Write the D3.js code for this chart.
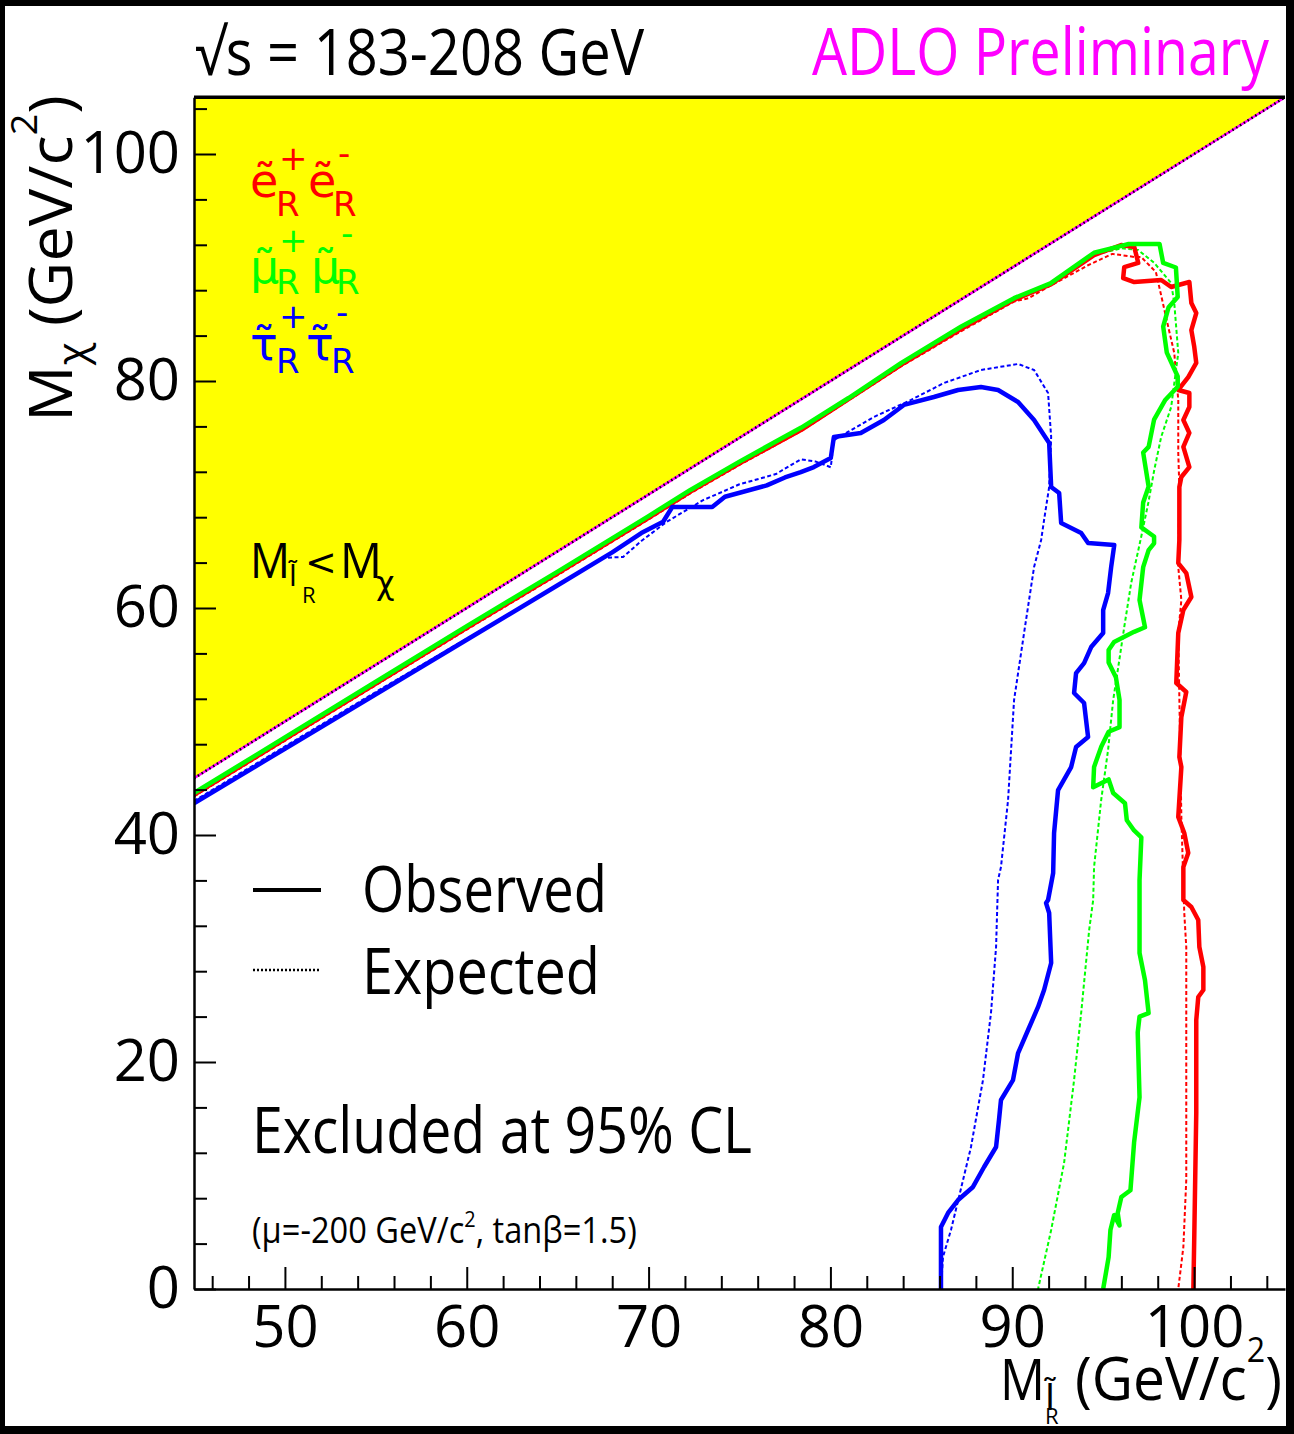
<!DOCTYPE html>
<html><head><meta charset="utf-8">
<script src="https://cdn.jsdelivr.net/npm/d3@7"></script>
<style>html,body{margin:0;padding:0;background:#000}svg{display:block}</style>
</head><body>
<svg id="c" width="1294" height="1434"></svg>
<script>
// ---------------- data ----------------
const xDomain = [45, 105];
const yDomain = [0, 105];
const xMajorTicks = [50, 60, 70, 80, 90, 100];
const xMinorTicks = [46,48,52,54,56,58,62,64,66,68,72,74,76,78,82,84,86,88,92,94,96,98,102,104];
const yMajorTicks = [0, 20, 40, 60, 80, 100];
const yMinorTicks = [4,8,12,16,24,28,32,36,44,48,52,56,64,68,72,76,84,88,92,96,104];
const forbiddenRegion = [[45,45],[45,105],[105,105]];   // M_slepton < M_chi
const boundary = [[45,45],[105,105]];

// selectron (red)
const eObs = [[45,43.55],[50,48.45],[55,53.35],[60,58.25],[65,63.05],[70,67.95],[72.3,70.25],[75,72.75],[78.4,75.7],[83.9,81.45],[87.2,84.6],[90.1,87.15],[92.1,88.5],[94.5,91.1],[95.99,91.98],[96.71,91.81],[96.93,90.40],[96.16,90.04],[96.10,89.07],[96.71,88.72],[98.19,88.90],[98.74,88.28],[99.74,88.72],[99.85,86.87],[100.12,85.99],[99.85,84.49],[100.01,83.0],[100.12,81.59],[99.68,80.35],[99.13,79.21],[99.74,78.94],[99.74,77.71],[99.41,76.56],[99.74,75.42],[99.41,74.19],[99.74,72.42],[99.30,71.54],[99.19,70.66],[99.19,65.99],[99.13,63.96],[99.57,63.08],[99.85,60.97],[99.41,59.82],[99.13,57.80],[99.02,53.39],[99.57,52.60],[99.30,50.40],[99.19,46.87],[99.30,45.99],[99.13,41.59],[99.46,40.18],[99.68,38.41],[99.41,37.18],[99.41,34.27],[99.85,33.66],[100.23,32.51],[100.29,30.13],[100.51,28.37],[100.51,26.34],[100.23,25.73],[100.12,23.70],[100.12,15.51],[100.01,4.58],[99.96,0]];
const eExp = [[45,43.4],[50,48.3],[55,53.2],[60,58.1],[65,62.9],[70,67.8],[72.3,70.1],[75,72.6],[78.4,75.6],[83.9,81.3],[87.2,84.4],[90.1,87.0],[90.9,87.3],[92.1,88.4],[94.17,90.2],[95.5,91.2],[96.71,90.93],[97.09,90.93],[97.9,89.6],[98.58,84.76],[98.91,82.47],[99.13,78.33],[99.13,73.66],[99.19,70.66],[99.13,63.61],[99.30,60.70],[99.13,57.80],[99.30,41.59],[99.46,33.13],[99.57,30.13],[99.57,18.41],[99.57,9.60],[99.41,3.70],[99.13,0]];
// smuon (green)
const muObs = [[45,43.7],[50,48.6],[55,53.5],[60,58.4],[65,63.2],[70,68.1],[72.3,70.4],[75,72.9],[78.4,75.9],[81,78.5],[83.9,81.6],[87.2,84.8],[90.1,87.3],[92.1,88.6],[94.5,91.3],[96.0,91.9],[96.4,92.07],[98.1,92.07],[98.3,90.4],[99.0,90.0],[99.1,87.4],[98.6,86.5],[98.3,84.8],[98.5,82.5],[99.1,80.4],[99.1,79.5],[98.4,78.3],[97.8,76.6],[97.5,74.2],[97.2,73.7],[97.5,70.7],[97.2,69.3],[97.1,67.1],[97.8,66.3],[97.8,65.7],[97.5,65.1],[97.2,63.6],[97.0,60.7],[97.3,58.3],[96.7,57.9],[95.6,57.0],[95.3,56.3],[95.3,55.2],[95.7,53.9],[95.9,51.9],[95.9,49.5],[95.3,49.1],[94.9,47.8],[94.5,46.0],[94.45,44.2],[95.3,44.9],[95.55,43.7],[96.2,42.8],[96.3,41.3],[96.7,40.4],[97.1,39.8],[97.0,36.0],[97.0,29.6],[97.3,27.2],[97.5,24.3],[97.0,24.0],[96.9,22.6],[97.0,16.9],[96.7,12.9],[96.5,8.7],[96.0,8.1],[95.8,6.7],[95.9,5.6],[95.6,6.5],[95.4,5.2],[95.3,2.8],[95.0,0]];
const muExp = [[45,43.5],[50,48.4],[55,53.3],[60,58.2],[65,63.0],[70,67.9],[72.3,70.2],[75,72.7],[78.4,75.7],[83.9,81.4],[87.2,84.6],[90.1,87.1],[92.1,88.5],[94.5,91.1],[96.0,91.7],[96.93,91.54],[97.81,90.40],[98.74,88.63],[98.91,86.87],[99.13,82.47],[98.74,77.71],[98.19,75.07],[97.81,72.16],[97.48,69.25],[97.09,66.26],[96.54,62.20],[96.16,58.33],[95.83,54.80],[95.55,51.89],[95.27,47.49],[94.89,43.08],[94.50,37.18],[94.45,34.27],[94.23,31.63],[93.79,24.32],[93.40,18.41],[92.85,11.10],[92.14,5.20],[91.42,0]];
// stau (blue)
const tauObs = [[45,42.8],[50,47.6],[55,52.4],[60,57.2],[65,62.0],[68,64.9],[69.6,66.6],[70.8,67.6],[71.3,68.9],[73.5,68.9],[74.2,69.8],[76.5,70.8],[77.5,71.5],[78.37,71.98],[79.09,72.42],[80.02,73.22],[80.19,75.07],[81.67,75.42],[82.94,76.56],[84.04,77.89],[85.69,78.59],[87.02,79.21],[88.28,79.47],[89.22,79.21],[90.32,78.15],[91.20,76.56],[92.03,74.54],[92.14,70.66],[92.58,70.13],[92.69,67.49],[93.79,66.61],[94.17,65.73],[95.61,65.55],[95.44,63.61],[95.27,61.32],[95.0,59.82],[95.0,57.80],[94.34,56.56],[93.95,55.15],[93.51,54.27],[93.40,52.51],[93.95,51.63],[94.17,48.63],[93.51,47.75],[93.24,45.99],[92.52,43.96],[92.30,40.18],[92.25,36.65],[91.97,34.27],[91.86,34.0],[92.03,33.13],[92.14,28.72],[91.75,26.34],[91.42,24.85],[90.87,22.82],[90.32,20.79],[90.04,18.41],[89.38,16.65],[89.27,14.89],[89.11,12.51],[88.45,10.75],[87.84,8.99],[87.02,7.84],[86.47,6.70],[86.08,5.46],[86.08,0]];
const tauExp = [[45,43.0],[50,47.8],[55,52.6],[60,57.3],[63,60.1],[66,62.9],[67.4,64.4],[68.6,64.5],[69.6,65.9],[71,67.6],[73,69.5],[75,70.9],[77,71.8],[78.37,73.1],[79.2,72.9],[80.02,72.4],[80.19,74.8],[80.96,75.51],[82.39,76.83],[84.43,78.33],[86.24,79.82],[88.28,80.97],[90.32,81.50],[91.20,80.97],[91.97,78.94],[92.14,75.07],[92.03,70.66],[91.75,67.75],[91.59,66.0],[91.20,63.61],[90.65,57.80],[90.10,51.89],[89.77,43.08],[89.38,37.18],[89.22,36.04],[89.11,30.13],[88.83,24.32],[88.39,18.41],[87.73,12.51],[87.07,8.11],[86.63,5.20],[86.19,2.82],[86.08,0]];

// ---------------- drawing ----------------
const FONT = "'Open Sans','DejaVu Sans',sans-serif";
const SYM = "'DejaVu Sans',sans-serif";
const svg = d3.select('#c');
svg.append('rect').attr('width',1294).attr('height',1434).attr('fill','#fff');

const x = d3.scaleLinear().domain(xDomain).range([194, 1285]);
const y = d3.scaleLinear().domain(yDomain).range([1289, 97.25]);
const line = d3.line().x(d => x(d[0])).y(d => y(d[1]));

svg.append('clipPath').attr('id','plot').append('rect')
  .attr('x', x(45)).attr('y', y(105)).attr('width', x(105)-x(45)).attr('height', y(0)-y(105));
const plot = svg.append('g').attr('clip-path','url(#plot)');

plot.append('path').attr('d', line(forbiddenRegion) + 'Z').attr('fill', '#ffff00');

const curves = [
  {d: eExp, c: '#ff0000', dash: true},
  {d: muExp, c: '#00ff00', dash: true},
  {d: tauExp, c: '#0000ff', dash: true},
  {d: eObs, c: '#ff0000', dash: false},
  {d: muObs, c: '#00ff00', dash: false},
  {d: tauObs, c: '#0000ff', dash: false}
];
curves.forEach(s => {
  plot.append('path').attr('d', line(s.d)).attr('fill','none')
    .attr('stroke', s.c).attr('stroke-width', s.dash ? 2 : 4.5)
    .attr('stroke-linejoin','round')
    .attr('stroke-dasharray', s.dash ? '4,2.5' : null);
});

plot.append('path').attr('d', line(boundary)).attr('stroke','#ff00ff').attr('stroke-width',2.5).attr('fill','none');
plot.append('path').attr('d', line(boundary)).attr('stroke','#000').attr('stroke-width',2.5).attr('stroke-dasharray','1.5,3').attr('fill','none');

// axes
function styleAxis(g){
  g.selectAll('.domain').attr('stroke','#000').attr('stroke-width',2.5);
  g.selectAll('.tick line').attr('stroke','#000').attr('stroke-width',2);
  g.selectAll('.tick text').attr('font-family',FONT).attr('font-size',58).attr('fill','#000');
}
const gxMin = svg.append('g').attr('transform',`translate(0,${y(0)})`)
  .call(d3.axisBottom(x).tickValues(xMinorTicks).tickSize(-13).tickSizeOuter(0).tickFormat(''));
gxMin.select('.domain').remove(); styleAxis(gxMin);
const gx = svg.append('g').attr('transform',`translate(0,${y(0)})`)
  .call(d3.axisBottom(x).tickValues(xMajorTicks).tickSize(-22).tickSizeOuter(0).tickPadding(17).tickFormat(d3.format('d')));
styleAxis(gx);
const gyMin = svg.append('g').attr('transform',`translate(${x(45)},0)`)
  .call(d3.axisLeft(y).tickValues(yMinorTicks).tickSize(-13).tickSizeOuter(0).tickFormat(''));
gyMin.select('.domain').remove(); styleAxis(gyMin);
const gy = svg.append('g').attr('transform',`translate(${x(45)},0)`)
  .call(d3.axisLeft(y).tickValues(yMajorTicks).tickSize(-22).tickSizeOuter(0).tickPadding(14).tickFormat(d3.format('d')));
styleAxis(gy);
svg.append('line').attr('x1',x(45)).attr('x2',x(105)).attr('y1',y(105)).attr('y2',y(105)).attr('stroke','#000').attr('stroke-width',3.5);

// text helpers
function fitText(x0, y0, w, build, rot, fill){
  const t = svg.append('text').attr('font-family',FONT).attr('fill', fill || '#000');
  build(t);
  const bw = t.node().getBBox().width;
  t.attr('transform', `translate(${x0},${y0})${rot ? ' rotate(-90)' : ''} scale(${w/bw},1)`);
  return t;
}
function put(x0, y0, s, size, fill, fam){
  return svg.append('text').attr('x',x0).attr('y',y0).attr('font-family',fam || SYM)
    .attr('font-size',size).attr('fill',fill || '#000').text(s);
}

fitText(195, 75, 450, t => t.attr('font-size',64).text('√s = 183-208 GeV'));
fitText(812, 75, 458, t => t.attr('font-size',66).text('ADLO Preliminary'), false, '#ff00ff');

// y label
fitText(72, 422, 327, t => {
  t.attr('font-size',60);
  t.append('tspan').text('M');
  t.append('tspan').attr('font-size',40).attr('dy',14).text('χ');
  t.append('tspan').attr('dy',-14).text(' (GeV/c');
  t.append('tspan').attr('font-size',36).attr('dy',-35).text('2');
  t.append('tspan').attr('dy',35).text(')');
}, true);

// x label
fitText(1000, 1400, 45, t => t.attr('font-size',56).text('M'));
put(1045, 1410, 'l̃', 36, '#000');
put(1045, 1424, 'R', 22, '#000', FONT);
fitText(1075, 1400, 207, t => {
  t.attr('font-size',60);
  t.append('tspan').text('(GeV/c');
  t.append('tspan').attr('font-size',34).attr('dy',-38).text('2');
  t.append('tspan').attr('dy',38).text(')');
});

// particle labels
const rows = [
  {c:'#ff0000', ch:'ẽ', b:197, sup:[170,165], r:216, x2:308},
  {c:'#00ff00', ch:'μ̃', b:283, sup:[252,245], r:294, x2:311},
  {c:'#0000ff', ch:'τ̃', b:360, sup:[328,324], r:373, x2:306}
];
rows.forEach(r => {
  put(250, r.b, r.ch, 46, r.c);
  put(279, r.sup[0], '+', 34, r.c);
  put(276, r.r, 'R', 34, r.c);
  put(r.x2, r.b, r.ch, 46, r.c);
  put(r.x2 + 30, r.sup[1], '-', 34, r.c);
  put(r.x2 + 25, r.r, 'R', 34, r.c);
});

// M_l < M_chi
fitText(250, 578, 40, t => t.attr('font-size',50).text('M'));
put(289, 586, 'l̃', 28, '#000');
put(302, 603, 'R', 22, '#000', FONT);
put(305, 575, '<', 38, '#000');
fitText(340, 578, 42, t => t.attr('font-size',50).text('M'));
put(376, 594, 'χ', 32, '#000');

// legend
svg.append('line').attr('x1',253).attr('x2',321).attr('y1',890).attr('y2',890).attr('stroke','#000').attr('stroke-width',4);
svg.append('line').attr('x1',253).attr('x2',321).attr('y1',970).attr('y2',970).attr('stroke','#000').attr('stroke-width',2.5).attr('stroke-dasharray','2,2');
fitText(362, 912, 245, t => t.attr('font-size',64).text('Observed'));
fitText(362, 994, 238, t => t.attr('font-size',64).text('Expected'));
fitText(252, 1153, 500, t => t.attr('font-size',64).text('Excluded at 95% CL'));
fitText(252, 1243, 385, t => {
  t.attr('font-size',36);
  t.append('tspan').text('(μ=-200 GeV/c');
  t.append('tspan').attr('font-size',22).attr('dy',-16).text('2');
  t.append('tspan').attr('dy',16).text(', tanβ=1.5)');
});

// black frame
svg.append('rect').attr('x',0).attr('y',0).attr('width',1294).attr('height',6).attr('fill','#000');
svg.append('rect').attr('x',0).attr('y',0).attr('width',5).attr('height',1434).attr('fill','#000');
svg.append('rect').attr('x',1286).attr('y',0).attr('width',8).attr('height',1434).attr('fill','#000');
svg.append('rect').attr('x',0).attr('y',1426).attr('width',1294).attr('height',8).attr('fill','#000');
</script>
</body></html>
